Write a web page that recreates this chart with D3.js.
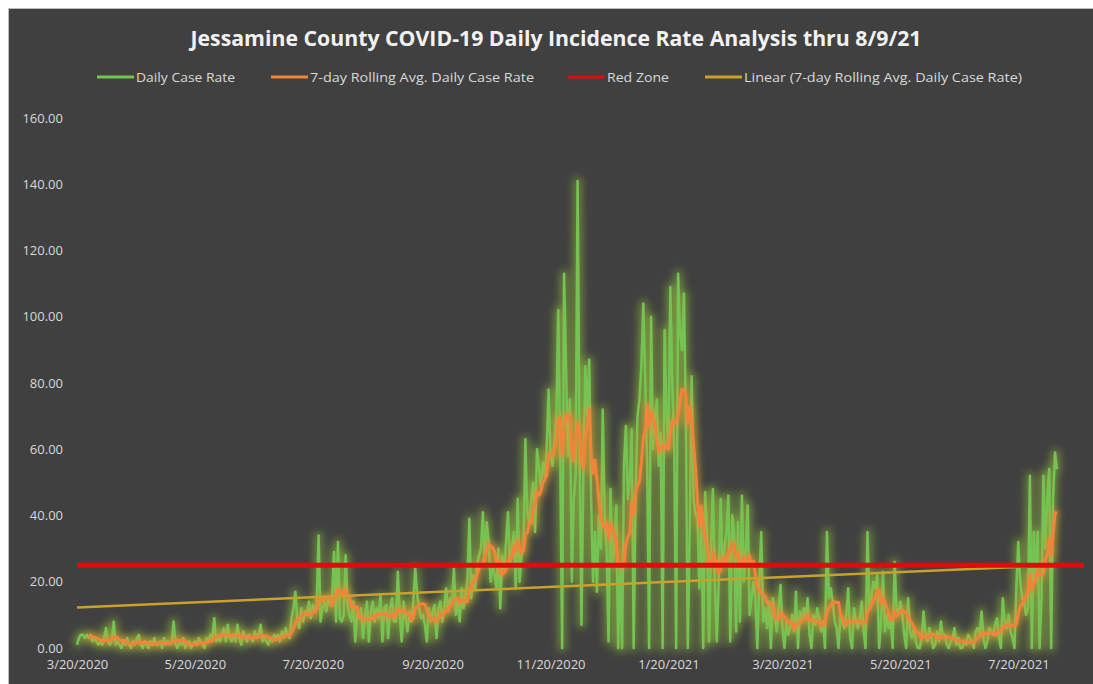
<!DOCTYPE html>
<html>
<head>
<meta charset="utf-8">
<script src="https://cdn.jsdelivr.net/npm/d3@7"></script>
<style>
  body { margin: 0; background: #ffffff; }
  svg { display: block; }
  text { font-family: "Open Sans", "Noto Sans", sans-serif; }
</style>
</head>
<body>
<div id="chart"></div>
<script>

// ---- data (daily case rate, one array per month) ----
const firstDay = '2020-03-20';
const mar2020 = [1,3,4,4,3,4,3,4,2,3,2,1];
const apr2020 = [2,1,3,6,2,1,2,8,1,2,1,0,2,1,3,1,0,2,1,3,4,1,0,2,1,0,2,1,3,1];
const may2020 = [1,2,0,3,1,2,1,2,8,1,0,2,1,3,0,1,2,0,1,2,1,3,2,1,0,3,2,4,3,9,2];
const jun2020 = [3,2,4,6,2,7,3,2,4,2,7,3,1,5,3,2,4,3,2,5,3,4,7,2,3,2,1,3,2,4];
const jul2020 = [3,4,2,5,3,6,4,3,9,12,17,8,6,12,8,11,10,14,9,13,11,13,34,8,12,14,11,15,13,16,29];
const aug2020 = [8,32,9,8,10,28,13,10,8,14,2,11,9,12,3,10,14,2,11,14,8,12,9,16,2,12,13,3,12,15,8];
const sep2020 = [8,23,10,2,14,9,5,11,8,14,24,16,12,9,10,7,2,12,8,11,13,3,12,14,8,12,18,11,15,13];
const oct2020 = [24,10,14,8,18,12,16,20,39,15,22,18,25,28,30,41,26,38,32,20,25,22,18,30,12,28,24,32,41,25,30];
const nov2020 = [35,18,45,20,28,30,63,40,38,45,50,35,60,55,48,56,52,60,78,58,55,62,70,102,60,0,113,85,58,75];
const dec2020 = [20,45,52,141,60,7,55,85,70,87,45,20,35,17,40,30,72,40,30,2,48,25,30,43,0,25,0,55,67,45,50];
const jan2021 = [66,0,45,70,75,85,104,80,55,0,100,60,70,75,55,65,0,96,70,60,109,80,60,0,113,95,90,107,70,0,35];
const feb2021 = [82,45,40,40,18,40,0,47,35,2,30,48,20,2,20,45,25,30,35,46,2,40,35,5,38,8,46,20];
const mar2021 = [30,43,10,15,20,15,0,20,35,8,12,6,14,0,15,10,5,12,19,6,0,8,4,6,10,5,17,0,11,8,12];
const apr2021 = [9,15,4,0,10,7,12,9,5,8,0,35,15,18,14,8,6,0,10,8,6,10,18,3,0,12,8,6,9,14];
const may2021 = [5,0,35,12,15,20,18,22,0,8,23,5,10,6,8,0,26,12,10,14,10,4,0,15,5,3,6,2,0,0,3];
const jun2021 = [11,4,2,6,3,0,1,5,2,8,3,4,1,0,2,3,6,1,3,0,0,2,1,4,3,2,0,5,6,4];
const jul2021 = [11,3,0,2,6,5,4,7,9,3,0,15,8,6,10,5,3,0,18,32,20,15,14,10,12,52,0,35,20,35,0];
const aug2021 = [15,52,30,45,54,0,45,59,54];

const redZone = 25;
const axisEnd = '2021-08-23';
const yTicks = [0, 20, 40, 60, 80, 100, 120, 140, 160];
const xTickLabels = ['3/20/2020', '5/20/2020', '7/20/2020', '9/20/2020', '11/20/2020',
                     '1/20/2021', '3/20/2021', '5/20/2021', '7/20/2021'];
const seriesNames = ['Daily Case Rate', '7-day Rolling Avg. Daily Case Rate', 'Red Zone',
                     'Linear (7-day Rolling Avg. Daily Case Rate)'];
const title = 'Jessamine County COVID-19 Daily Incidence Rate Analysis thru 8/9/21';

// ---- layout ----
const W = 1093, H = 684;
const plot = {left: 77, right: 1084, top: 118, bottom: 648};
const colors = {
    daily: '#74c453',
    avg: '#f0843a',
    red: '#e00b0b',
    trend: '#c9a22e',
    bg: '#404040',
    text: '#d9d9d9'
};

const parseDay = d3.timeParse('%Y-%m-%d');
const parseLabel = d3.timeParse('%m/%d/%Y');

const daily = [].concat(mar2020, apr2020, may2020, jun2020, jul2020, aug2020, sep2020, oct2020,
    nov2020, dec2020, jan2021, feb2021, mar2021, apr2021, may2021, jun2021, jul2021, aug2021);
const start = parseDay(firstDay);
const data = daily.map((v, i) => ({date: d3.timeDay.offset(start, i), value: v, i}));

// 7-day rolling average
const rolling = data.slice(6).map(d => ({
    date: d.date,
    i: d.i,
    value: d3.mean(daily.slice(d.i - 6, d.i + 1))
}));

// least squares line through the rolling average (Excel "Linear" trendline)
const mx = d3.mean(rolling, d => d.i);
const my = d3.mean(rolling, d => d.value);
const slope = d3.sum(rolling, d => (d.i - mx) * (d.value - my)) / d3.sum(rolling, d => (d.i - mx) ** 2);
const intercept = my - slope * mx;
const trend = [data[0], data[data.length - 1]].map(d => ({date: d.date, value: intercept + slope * d.i}));

const x = d3.scaleTime()
    .domain([start, parseDay(axisEnd)])
    .range([plot.left, plot.right]);
const y = d3.scaleLinear()
    .domain([0, 160])
    .range([plot.bottom, plot.top]);

const svg = d3.select('#chart').append('svg')
    .attr('width', W)
    .attr('height', H);

// glow effect like the Excel line glow
const defs = svg.append('defs');
const glow = (id, color, std, opacity) => {
    const f = defs.append('filter').attr('id', id)
        .attr('filterUnits', 'userSpaceOnUse')
        .attr('x', 0).attr('y', 0).attr('width', W).attr('height', H);
    f.append('feMorphology').attr('in', 'SourceAlpha').attr('operator', 'dilate')
        .attr('radius', 1.5).attr('result', 'd');
    f.append('feGaussianBlur').attr('in', 'd').attr('stdDeviation', std).attr('result', 'b');
    f.append('feFlood').attr('flood-color', color).attr('flood-opacity', opacity);
    f.append('feComposite').attr('in2', 'b').attr('operator', 'in').attr('result', 'g');
    const m = f.append('feMerge');
    m.append('feMergeNode').attr('in', 'g');
    m.append('feMergeNode').attr('in', 'SourceGraphic');
};
glow('glowGreen', '#9ccc3c', 4.5, 0.62);
glow('glowOrange', '#ff9030', 3, 0.45);

// background
svg.append('rect')
    .attr('x', 8.5).attr('y', 8.5)
    .attr('width', W - 8).attr('height', H - 8)
    .attr('fill', colors.bg)
    .attr('stroke', '#bdbdbd');

// title
svg.append('text')
    .attr('x', 556).attr('y', 46)
    .attr('text-anchor', 'middle')
    .attr('fill', '#f2f2f2')
    .attr('font-size', 21)
    .attr('font-weight', 'bold')
    .attr('textLength', 731)
    .attr('lengthAdjust', 'spacingAndGlyphs')
    .text(title);

// legend
const legendItems = [
    {x: 97, w: 99, color: colors.daily},
    {x: 271, w: 224, color: colors.avg},
    {x: 568, w: 62, color: colors.red},
    {x: 705, w: 278, color: colors.trend}
];
const legend = svg.append('g');
legendItems.forEach((d, k) => {
    legend.append('line')
        .attr('x1', d.x).attr('x2', d.x + 37)
        .attr('y1', 77).attr('y2', 77)
        .attr('stroke', d.color)
        .attr('stroke-width', 3);
    legend.append('text')
        .attr('x', d.x + 39).attr('y', 82)
        .attr('fill', colors.text)
        .attr('font-size', 13)
        .attr('textLength', d.w)
        .attr('lengthAdjust', 'spacingAndGlyphs')
        .text(seriesNames[k]);
});

// axes
const yAxis = svg.append('g')
    .attr('transform', `translate(${plot.left},0)`)
    .call(d3.axisLeft(y).tickValues(yTicks).tickFormat(d3.format('.2f')).tickSize(0).tickPadding(14));
const xAxis = svg.append('g')
    .attr('transform', `translate(0,${plot.bottom})`)
    .call(d3.axisBottom(x)
        .tickValues(xTickLabels.map(parseLabel))
        .tickFormat((d, k) => xTickLabels[k])
        .tickSize(0).tickPadding(12));
[yAxis, xAxis].forEach(a => {
    a.select('.domain').remove();
    a.selectAll('text')
        .attr('fill', colors.text)
        .attr('font-size', 13)
        .attr('font-family', '"Open Sans", sans-serif');
});

const line = d3.line()
    .x(d => x(d.date))
    .y(d => y(d.value));

// daily case rate
svg.append('path')
    .datum(data)
    .attr('d', line)
    .attr('fill', 'none')
    .attr('stroke', colors.daily)
    .attr('stroke-width', 2.5)
    .attr('stroke-linejoin', 'round')
    .attr('filter', 'url(#glowGreen)');

// rolling average
svg.append('path')
    .datum(rolling)
    .attr('d', line)
    .attr('fill', 'none')
    .attr('stroke', colors.avg)
    .attr('stroke-width', 3)
    .attr('stroke-linejoin', 'round')
    .attr('filter', 'url(#glowOrange)');

// linear trendline
svg.append('path')
    .datum(trend)
    .attr('d', line)
    .attr('fill', 'none')
    .attr('stroke', colors.trend)
    .attr('stroke-width', 2.5);

// red zone
svg.append('path')
    .datum(x.domain().map(date => ({date, value: redZone})))
    .attr('d', line)
    .attr('fill', 'none')
    .attr('stroke', colors.red)
    .attr('stroke-width', 5);

</script>
</body>
</html>
